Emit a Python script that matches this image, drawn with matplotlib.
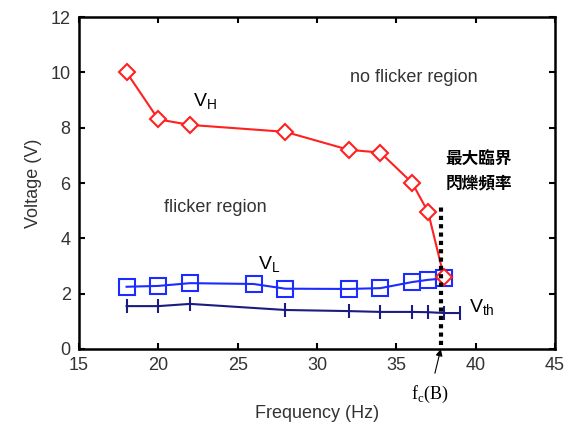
import matplotlib.pyplot as plt

# measured thresholds vs. flicker frequency
freq_h = [18, 20, 22, 28, 32, 34, 36, 37, 38]
v_high = [10.0, 8.3, 8.1, 7.85, 7.2, 7.1, 6.0, 4.95, 2.6]

freq_l = [18, 20, 22, 26, 28, 32, 34, 36, 37, 38]
v_low = [2.25, 2.28, 2.38, 2.35, 2.18, 2.17, 2.2, 2.42, 2.5, 2.55]

freq_th = [18, 20, 22, 28, 32, 34, 36, 37, 38, 39]
v_th = [1.55, 1.55, 1.63, 1.41, 1.37, 1.34, 1.34, 1.33, 1.3, 1.3]

f_crit = 37.8

plt.rcParams['font.family'] = ['Liberation Sans', 'DejaVu Sans']

fig = plt.figure(figsize=(5.74, 4.30), dpi=100)
ax = fig.add_axes([0.1376, 0.1884, 0.8294, 0.772])

ax.plot(freq_th, v_th, color='#1c1c80', lw=1.5, marker='|', ms=10, mew=1.5)
ax.plot(freq_l, v_low, color='#1a2cff', lw=1.5, marker='s', ms=11,
        mfc='none', mew=1.5)
ax.plot(freq_h, v_high, color='#ff2020', lw=1.5, marker='D', ms=8,
        mfc='white', mew=1.5)

# critical flicker frequency marker
ax.plot([f_crit, f_crit], [0.15, 5.25], color='black', lw=3, ls=(0, (1, 1)))
ax.annotate('f$_\\mathregular{c}$(B)', xy=(f_crit, 0), xytext=(37.1, -1.65),
            textcoords='data', ha='center', va='center', fontsize=13,
            family='Liberation Serif', annotation_clip=False,
            arrowprops=dict(arrowstyle='-|>', color='black', lw=0.8,
                            shrinkA=6, shrinkB=0, mutation_scale=10))
ax.text(40.2, 6.4, '最大臨界\n閃爍頻率', ha='center', va='center', fontsize=12,
        fontweight='bold', linespacing=1.4,
        family=['Noto Sans CJK TC', 'DejaVu Sans'])

gray = '#333333'
ax.text(36.1, 9.8, 'no flicker region', ha='center', va='center',
        fontsize=13, color=gray)
ax.text(23.6, 5.1, 'flicker region', ha='center', va='center',
        fontsize=13, color=gray)
ax.text(22.2, 8.75, 'V$_\\mathregular{H}$', fontsize=14)
ax.text(26.3, 2.85, 'V$_\\mathregular{L}$', fontsize=14)
ax.text(39.6, 1.3, 'V$_\\mathregular{th}$', fontsize=14)

ax.set_xlim(15, 45)
ax.set_ylim(0, 12)
ax.set_xticks(range(15, 46, 5))
ax.set_yticks(range(0, 13, 2))
ax.tick_params(direction='in', top=True, right=True, length=4, width=1.5,
               labelsize=13, labelcolor=gray, pad=6)
for sp in ax.spines.values():
    sp.set_linewidth(1.8)

ax.set_xlabel('Frequency (Hz)', fontsize=13, color=gray, labelpad=22)
ax.set_ylabel('Voltage (V)', fontsize=13, color=gray, labelpad=6)

fig.savefig('out.png', dpi=100)
